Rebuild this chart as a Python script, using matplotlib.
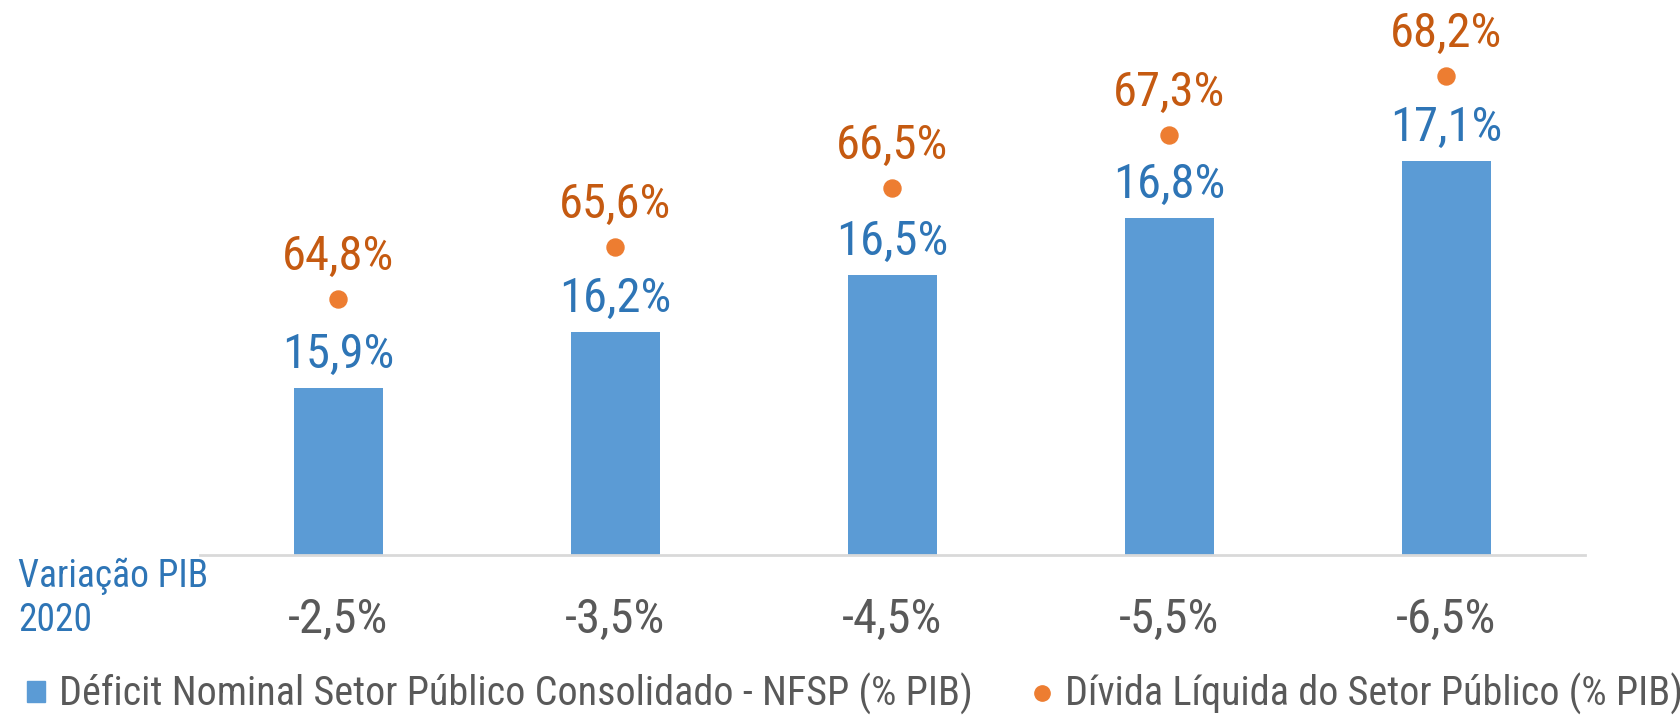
import numpy as np
import matplotlib
matplotlib.use("Agg")
import matplotlib.pyplot as plt
from matplotlib.lines import Line2D
from matplotlib.patches import Patch

plt.rcParams['font.family'] = ['Roboto Condensed', 'DejaVu Sans']

categorias = ['-2,5%', '-3,5%', '-4,5%', '-5,5%', '-6,5%']
deficit = [15.9, 16.2, 16.5, 16.8, 17.1]
divida = [64.8, 65.6, 66.5, 67.3, 68.2]

cor_barra = '#5B9BD5'
cor_ponto = '#ED7D31'
cor_rot_azul = '#2E75B6'
cor_rot_laranja = '#C55A11'
cinza = '#595959'

W, H = 1681, 715
fig = plt.figure(figsize=(W / 100, H / 100), dpi=100)
# eixo em pixels: esquerda 200, direita 1585, base 555 a partir do topo
ax = fig.add_axes([200 / W, (H - 555) / H, 1385 / W, 555 / H])
ax2 = ax.twinx()

x = np.arange(len(categorias))
ax.bar(x, deficit, width=0.32, color=cor_barra, zorder=2)
ax.set_ylim(15.02, 15.02 + 555 / 189.4)
ax.set_xlim(-0.5, 4.5)

ax2.scatter(x, divida, s=150, color=cor_ponto, zorder=3)
ax2.set_ylim(60.9, 60.9 + 555 / 65.6)

for xi, v in zip(x, deficit):
    ax.annotate(f'{v:.1f}%'.replace('.', ','), (xi, v), xytext=(0, 10),
                textcoords='offset pixels', ha='center', va='bottom',
                fontsize=35, color=cor_rot_azul)
for xi, v in zip(x, divida):
    ax2.annotate(f'{v:.1f}%'.replace('.', ','), (xi, v), xytext=(0, 19),
                 textcoords='offset pixels', ha='center', va='bottom',
                 fontsize=35, color=cor_rot_laranja)

for a in (ax, ax2):
    for s in a.spines.values():
        s.set_visible(False)
    a.set_yticks([])
ax.spines['bottom'].set_visible(True)
ax.spines['bottom'].set_color('#D9D9D9')
ax.spines['bottom'].set_linewidth(2)

ax.set_xticks(x)
ax.set_xticklabels(categorias, fontsize=35, color=cinza)
ax.tick_params(axis='x', length=0, pad=30)

fig.text(18 / W, 1 - 598 / H, 'Variação PIB\n2020', fontsize=27, color=cor_rot_azul,
         ha='left', va='center', linespacing=1.25)

handles = [Patch(color=cor_barra, label='Déficit Nominal Setor Público Consolidado - NFSP (% PIB)'),
           Line2D([], [], marker='o', color=cor_ponto, linestyle='none', markersize=11,
                  label='Dívida Líquida do Setor Público (% PIB)')]
leg = fig.legend(handles=handles, loc='center', bbox_to_anchor=(855 / W, 1 - 694 / H), ncol=2,
                 frameon=False, fontsize=28.9, handlelength=0.45, handleheight=0.45,
                 handletextpad=0.35, columnspacing=1.5, borderaxespad=0, borderpad=0)
for t in leg.get_texts():
    t.set_color(cinza)

fig.savefig('out.png', dpi=100)
